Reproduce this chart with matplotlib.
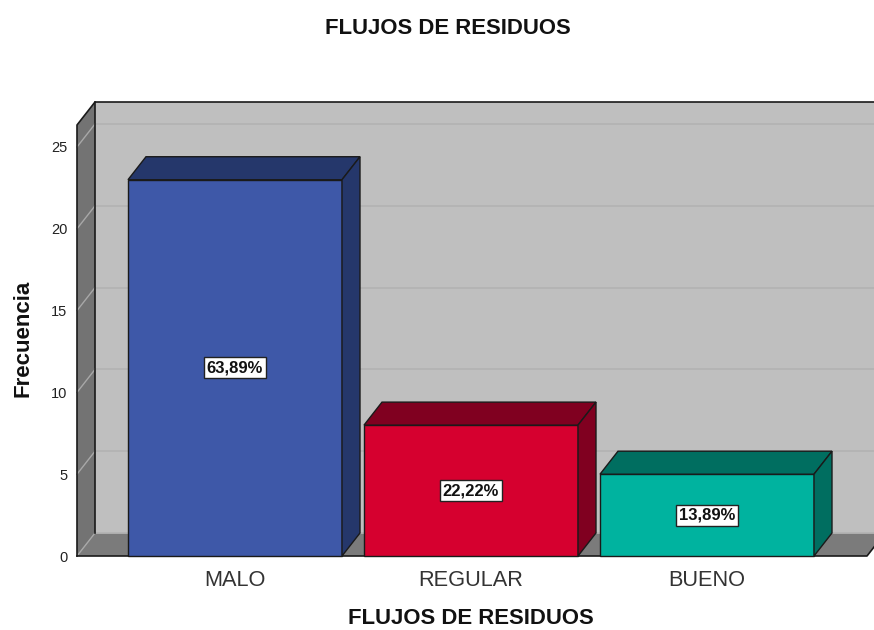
import matplotlib
matplotlib.use('Agg')
import matplotlib.pyplot as plt
from matplotlib.patches import Polygon

plt.rcParams['font.family'] = ['Liberation Sans', 'DejaVu Sans']

# datos
categorias = ['MALO', 'REGULAR', 'BUENO']
frecuencias = [23, 8, 5]
etiquetas = ['63,89%', '22,22%', '13,89%']
ticks_y = [0, 5, 10, 15, 20, 25]

colores = ['#3e58a8', '#d6002f', '#00b39f']
colores_osc = ['#25376b', '#800020', '#006e60']

W, H = 874, 630
X0, X1, Y0, Y1 = 77, 874, 556, 102  # area del eje en pixeles
PX_CAT = 236.0
PX_VAL = 16.36
CENTRO0 = 235

# profundidad 3d en unidades de datos
dx = 18 / PX_CAT
dy = 23 / PX_VAL
ancho = 214 / PX_CAT
borde = '#1a1a1a'

fig = plt.figure(figsize=(W / 100, H / 100), dpi=100)
ax = fig.add_axes([X0 / W, 1 - Y0 / H, (X1 - X0) / W, (Y0 - Y1) / H])
xmin = (X0 - CENTRO0) / PX_CAT
xmax = (X1 - CENTRO0) / PX_CAT
ymax = (Y0 - Y1) / PX_VAL
ax.set_xlim(xmin, xmax)
ax.set_ylim(0, ymax)
for s in ax.spines.values():
    s.set_visible(False)

y_tope = ymax - dy
x_fin = (867 - CENTRO0) / PX_CAT

# pared de fondo, pared lateral, piso
ax.add_patch(Polygon([(xmin + dx, dy), (xmin + dx, ymax), (x_fin + dx, ymax), (x_fin + dx, dy)],
                     fc='#bfbfbf', ec='none', zorder=1, clip_on=False))
ax.add_patch(Polygon([(xmin, 0), (xmin, y_tope), (xmin + dx, ymax), (xmin + dx, dy)],
                     fc='#737373', ec='none', zorder=1, clip_on=False))
ax.add_patch(Polygon([(xmin, 0), (xmin + dx, dy), (x_fin + dx, dy), (x_fin, 0)],
                     fc='#7b7b7b', ec='none', zorder=1, clip_on=False))

# lineas de cuadricula
for t in ticks_y:
    ax.plot([xmin + dx, x_fin + dx], [t + dy, t + dy], color='#b3b3b3', lw=1.3, zorder=2)
    ax.plot([xmin, xmin + dx], [t, t + dy], color='#a8a8a8', lw=1, zorder=2, clip_on=False)

# contornos de las paredes
ax.plot([xmin, xmin, xmin + dx, xmax], [0, y_tope, ymax, ymax], color=borde, lw=1.2, zorder=3, clip_on=False)
ax.plot([xmin + dx, xmin + dx], [dy, ymax], color=borde, lw=1.2, zorder=3, clip_on=False)
ax.plot([xmin, x_fin, x_fin + dx], [0, 0, dy], color=borde, lw=1.2, zorder=3, clip_on=False)

# barras
pos = list(range(len(categorias)))
ax.bar(pos, frecuencias, width=ancho, color=colores, edgecolor=borde, lw=1, zorder=4, clip_on=False)
for x, v, osc, et in zip(pos, frecuencias, colores_osc, etiquetas):
    izq = x - ancho / 2
    der = x + ancho / 2
    ax.add_patch(Polygon([(izq, v), (izq + dx, v + dy), (der + dx, v + dy), (der, v)],
                         fc=osc, ec=borde, lw=1, zorder=4))
    ax.add_patch(Polygon([(der, 0), (der, v), (der + dx, v + dy), (der + dx, dy)],
                         fc=osc, ec=borde, lw=1, zorder=4))
    ax.text(x, v / 2, et, ha='center', va='center', fontsize=12, fontweight='bold', color='#111111', zorder=6,
            bbox=dict(boxstyle='square,pad=0.18', fc='white', ec='#222222', lw=1))

ax.set_xticks(pos)
ax.set_xticklabels(categorias, fontsize=15.7, color='#333333')
ax.set_yticks(ticks_y)
ax.set_yticklabels([str(t) for t in ticks_y], fontsize=10.5, color='#222222')
ax.tick_params(axis='both', length=0)
ax.tick_params(axis='x', pad=10)
ax.tick_params(axis='y', pad=7)

ax.set_xlabel('FLUJOS DE RESIDUOS', fontsize=15.9, fontweight='bold', color='#111111')
ax.xaxis.set_label_coords((471 - X0) / (X1 - X0), -(618.5 - Y0) / (Y0 - Y1))
ax.xaxis.label.set_va('center')
ax.set_ylabel('Frecuencia', fontsize=16, fontweight='bold', color='#111111')
ax.yaxis.set_label_coords((23 - X0) / (X1 - X0), (Y0 - 338) / (Y0 - Y1))
ax.yaxis.label.set_va('center')

fig.text(448 / W, 1 - 28 / H, 'FLUJOS DE RESIDUOS', ha='center', va='center',
         fontsize=15.9, fontweight='bold', color='#111111')

plt.savefig('out.png', dpi=100)
